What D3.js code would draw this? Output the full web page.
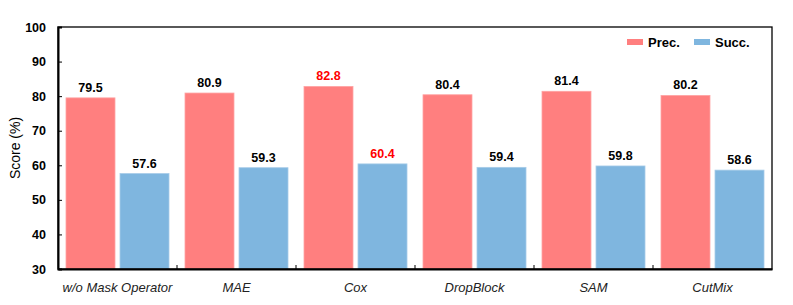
<!DOCTYPE html>
<html>
<head>
<meta charset="utf-8">
<script src="https://cdn.jsdelivr.net/npm/d3@7"></script>
<style>
  body { margin: 0; background: #fff; }
  svg { display: block; font-family: "Liberation Sans", Arial, sans-serif; }
</style>
</head>
<body>
<svg width="793" height="305"></svg>
<script>
const width = 793, height = 305;
const margin = { top: 27, right: 21, bottom: 36, left: 58 };

const categories = ["w/o Mask Operator", "MAE", "Cox", "DropBlock", "SAM", "CutMix"];
const seriesNames = ["Prec.", "Succ."];
const precValues = [79.5, 80.9, 82.8, 80.4, 81.4, 80.2];
const succValues = [57.6, 59.3, 60.4, 59.4, 59.8, 58.6];
const yTicks = [30, 40, 50, 60, 70, 80, 90, 100];
const highlight = "Cox";

const colors = { "Prec.": "#ff7f7f", "Succ.": "#7fb6df" };
const strokes = { "Prec.": "#ffa3a3", "Succ.": "#a6cbe8" };

const svg = d3.select("svg");
const innerW = width - margin.left - margin.right;
const innerH = height - margin.top - margin.bottom;
const g = svg.append("g").attr("transform", `translate(${margin.left},${margin.top})`);

const x = d3.scaleBand().domain(categories).range([0, innerW]);
const xs = d3.scaleBand().domain(seriesNames).range([8, x.bandwidth() - 8]).paddingInner(0.093);
const y = d3.scaleLinear().domain([30, 100]).range([innerH, 0]);

const rows = categories.map((c, i) => ({ cat: c, vals: [
  { key: "Prec.", value: precValues[i] },
  { key: "Succ.", value: succValues[i] }
]}));

const groups = g.selectAll(".grp").data(rows).join("g")
  .attr("transform", d => `translate(${x(d.cat)},0)`);

groups.selectAll("rect").data(d => d.vals).join("rect")
  .attr("x", d => xs(d.key))
  .attr("y", d => y(d.value))
  .attr("width", xs.bandwidth())
  .attr("height", d => y(30) - y(d.value))
  .attr("fill", d => colors[d.key])
  .attr("stroke", d => strokes[d.key])
  .attr("stroke-width", 0.8);

groups.selectAll("text").data(d => d.vals.map(v => ({ ...v, cat: d.cat }))).join("text")
  .attr("x", d => xs(d.key) + xs.bandwidth() / 2)
  .attr("y", d => y(d.value) - 6)
  .attr("text-anchor", "middle")
  .style("font-size", "12.5px")
  .style("font-weight", "bold")
  .attr("fill", d => d.cat === highlight ? "#ff0000" : "#000")
  .text(d => d.value.toFixed(1));

// frame
g.append("rect").attr("width", innerW).attr("height", innerH)
  .attr("fill", "none").attr("stroke", "#000").attr("stroke-width", 1.3);

// y axis
const yAxis = g.append("g")
  .call(d3.axisLeft(y).tickValues(yTicks).tickSize(-4).tickPadding(12).tickFormat(d3.format("d")));
yAxis.select(".domain").attr("stroke-width", 2);
yAxis.selectAll(".tick line").attr("stroke-width", 1);
yAxis.selectAll("text").style("font-size", "12.5px").style("font-weight", "bold")
  .style("font-family", "'Liberation Sans', Arial, sans-serif");

// x axis
const xAxis = g.append("g").attr("transform", `translate(0,${innerH})`)
  .call(d3.axisBottom(x).tickSize(0).tickPadding(14));
xAxis.select(".domain").attr("stroke-width", 2);
xAxis.selectAll("text").style("font-size", "13px").style("font-style", "italic")
  .style("font-family", "'Liberation Sans', Arial, sans-serif").attr("fill", "#222");

// separators between groups
g.selectAll(".sep").data(categories.slice(1)).join("line")
  .attr("x1", d => x(d)).attr("x2", d => x(d))
  .attr("y1", innerH).attr("y2", innerH - 4)
  .attr("stroke", "#000").attr("stroke-width", 1);

// y label
svg.append("text")
  .attr("transform", `translate(20,${margin.top + innerH / 2}) rotate(-90)`)
  .attr("text-anchor", "middle")
  .style("font-size", "14px")
  .text("Score (%)");

// legend
const legendX = [627, 694];
const legend = svg.selectAll(".leg").data(seriesNames).join("g")
  .attr("transform", (d, i) => `translate(${legendX[i]},39)`);
legend.append("rect").attr("width", 16).attr("height", 6).attr("fill", d => colors[d]);
legend.append("text").attr("x", 21).attr("y", 7.5)
  .style("font-size", "13px").style("font-weight", "bold").text(d => d);
</script>
</body>
</html>
